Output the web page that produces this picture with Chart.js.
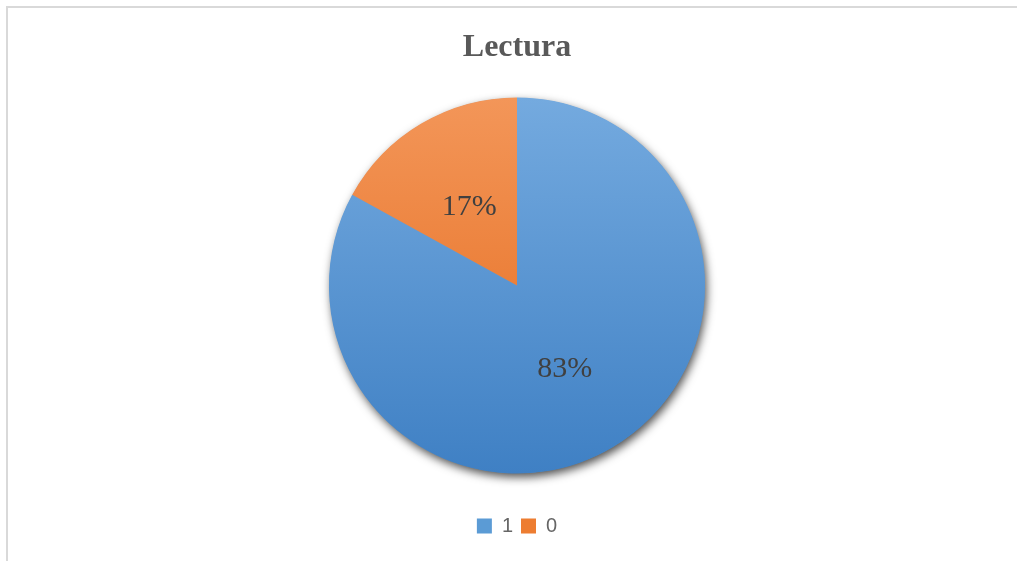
<!DOCTYPE html>
<html>
<head>
<meta charset="utf-8">
<title>Lectura</title>
<script src="https://cdn.jsdelivr.net/npm/chart.js@4"></script>
<style>
  html, body { margin: 0; padding: 0; background: #fff; overflow: hidden; }
  #frame {
    position: absolute; left: 6px; top: 6px;
    width: 1100px; height: 700px;
    border: 2px solid #d9d9d9;
  }
  #wrap { position: absolute; left: 0; top: 0; width: 1017px; height: 561px; }
</style>
</head>
<body>
<div id="frame"></div>
<div id="wrap"><canvas id="chart"></canvas></div>
<script>
const labels = ['1', '0'];
const values = [83, 17];
const baseColors = ['#5b9bd5', '#ed7d31'];
const topColors = ['#74aadf', '#f39659'];
const bottomColors = ['#3f80c4', '#e4691a'];

// vertical gradient across the pie, lighter at the top
function sliceFill(context) {
  const chart = context.chart;
  const i = context.dataIndex;
  const area = chart.chartArea;
  if (!area) return baseColors[i];
  const cy = (area.top + area.bottom) / 2;
  const r = Math.min(area.right - area.left, area.bottom - area.top) / 2;
  const g = chart.ctx.createLinearGradient(0, cy - r, 0, cy + r);
  g.addColorStop(0, topColors[i]);
  g.addColorStop(1, bottomColors[i]);
  return g;
}

// soft drop shadow behind the whole pie
const pieShadow = {
  id: 'pieShadow',
  beforeDatasetsDraw(chart) {
    const arc = chart.getDatasetMeta(0).data[0];
    if (!arc) return;
    const ctx = chart.ctx;
    ctx.save();
    ctx.shadowColor = 'rgba(0,0,0,0.7)';
    ctx.shadowBlur = 10;
    ctx.shadowOffsetX = 2;
    ctx.shadowOffsetY = 4;
    ctx.fillStyle = '#5b9bd5';
    ctx.beginPath();
    ctx.arc(arc.x, arc.y, arc.outerRadius - 0.5, 0, Math.PI * 2);
    ctx.fill();
    ctx.restore();
  }
};

// percentage labels in the middle of each slice
const sliceLabels = {
  id: 'sliceLabels',
  afterDatasetsDraw(chart) {
    const ctx = chart.ctx;
    const data = chart.data.datasets[0].data;
    const total = data.reduce((s, v) => s + v, 0);
    ctx.save();
    ctx.font = '30px "Liberation Serif", "Times New Roman", serif';
    ctx.fillStyle = '#404040';
    ctx.textAlign = 'center';
    ctx.textBaseline = 'middle';
    chart.getDatasetMeta(0).data.forEach((arc, i) => {
      const p = arc.getCenterPoint();
      ctx.fillText(Math.round(data[i] / total * 100) + '%', p.x, p.y + 3);
    });
    ctx.restore();
  }
};

new Chart(document.getElementById('chart'), {
  type: 'pie',
  data: {
    labels,
    datasets: [{
      data: values,
      backgroundColor: sliceFill,
      borderWidth: 0,
      hoverOffset: 0
    }]
  },
  options: {
    responsive: true,
    maintainAspectRatio: false,
    animation: false,
    layout: { padding: { left: 17, right: 0, top: 0, bottom: 15 } },
    plugins: {
      title: {
        display: true,
        text: 'Lectura',
        color: '#595959',
        font: { family: '"Liberation Serif", "Times New Roman", serif', size: 32, weight: 'bold' },
        padding: { top: 29, bottom: 30 }
      },
      legend: {
        position: 'bottom',
        // empty title only reserves space above the items
        title: { display: true, text: '', font: { size: 10 }, padding: { top: 22.5, bottom: 0 } },
        labels: {
          color: '#595959',
          font: { family: '"Liberation Sans", Arial, sans-serif', size: 20 },
          boxWidth: 15,
          boxHeight: 15,
          padding: 8,
          generateLabels(chart) {
            return labels.map((text, i) => ({
              text,
              fillStyle: baseColors[i],
              strokeStyle: baseColors[i],
              lineWidth: 0,
              hidden: false,
              index: i
            }));
          }
        }
      },
      tooltip: { enabled: false }
    }
  },
  plugins: [pieShadow, sliceLabels]
});
</script>
</body>
</html>
